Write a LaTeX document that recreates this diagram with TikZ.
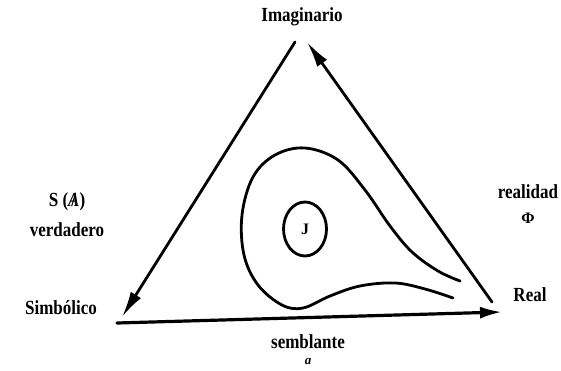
\documentclass[tikz,border=0pt]{standalone}
\usepackage{fontspec}
\setmainfont{Liberation Serif}
\usetikzlibrary{arrows.meta,shapes.geometric}
\newcommand{\condtxt}[1]{\scalebox{0.85}[1]{#1}}
\tikzset{
  lbl/.style={font=\bfseries\fontsize{20}{22}\selectfont, inner sep=1pt, align=center},
  edge/.style={line width=2.8pt, line cap=round},
  longtip/.style={-{Latex[length=26pt,width=12pt]}},
  looppath/.style={line width=2.8pt, line cap=round}
}
\begin{document}
\begin{tikzpicture}[x=1pt,y=-1pt]
\useasboundingbox (0,0) rectangle (561,371);
% labels
\node[lbl] (imag) at (302,17) {\condtxt{Imaginario}};
\node[lbl] (simb) at (61,308) {\condtxt{Simbólico}};
\node[lbl] (real) at (530,295) {\condtxt{Real}};
\node[lbl] (sa) at (67,202) {\condtxt{S (\ooalign{\textit{A}\cr\hidewidth/\hidewidth})}};
\node[lbl] (verd) at (67,230) {\condtxt{verdadero}};
\node[lbl] (realid) at (528,192) {\condtxt{realidad}};
\node[lbl] (phi) at (528,218) {\fontsize{16}{18}\selectfont Φ};
\node[lbl] (sembl) at (308,342) {\condtxt{semblante}};
\node[lbl] (smalla) at (308,362) {\fontsize{13}{14}\selectfont\textit{a}};
% central J
\node[draw, line width=2.8pt, ellipse, minimum width=43pt, minimum height=54pt, inner sep=0pt] (jcirc) at (305,229) {};
\node[font=\bfseries\fontsize{16}{18}\selectfont] (jtxt) at (jcirc.center) {J};
% triangle vertices
\coordinate (ltop) at (295,42);
\coordinate (lbot) at (122,317);
\coordinate (bleft) at (117,323);
\coordinate (bright) at (502,312);
\coordinate (rbot) at (492,302);
\coordinate (rtop) at (307,42);
\draw[edge, longtip] (ltop) -- (lbot);
\draw[edge, line width=3.2pt, -{Latex[length=22pt,width=12pt]}] (bleft) -- (bright);
\draw[edge, longtip] (rbot) -- (rtop);
% loop
\draw[looppath] plot[smooth, tension=0.6] coordinates {
 (460,281) (438,271) (412,252) (390,226) (365,190) (338,160) (305,148)
 (275,155) (253,177) (242,215) (244,255) (258,285) (282,305) (303,308)
 (330,296) (360,286) (395,283) (425,289) (453,298)};
\end{tikzpicture}
\end{document}
